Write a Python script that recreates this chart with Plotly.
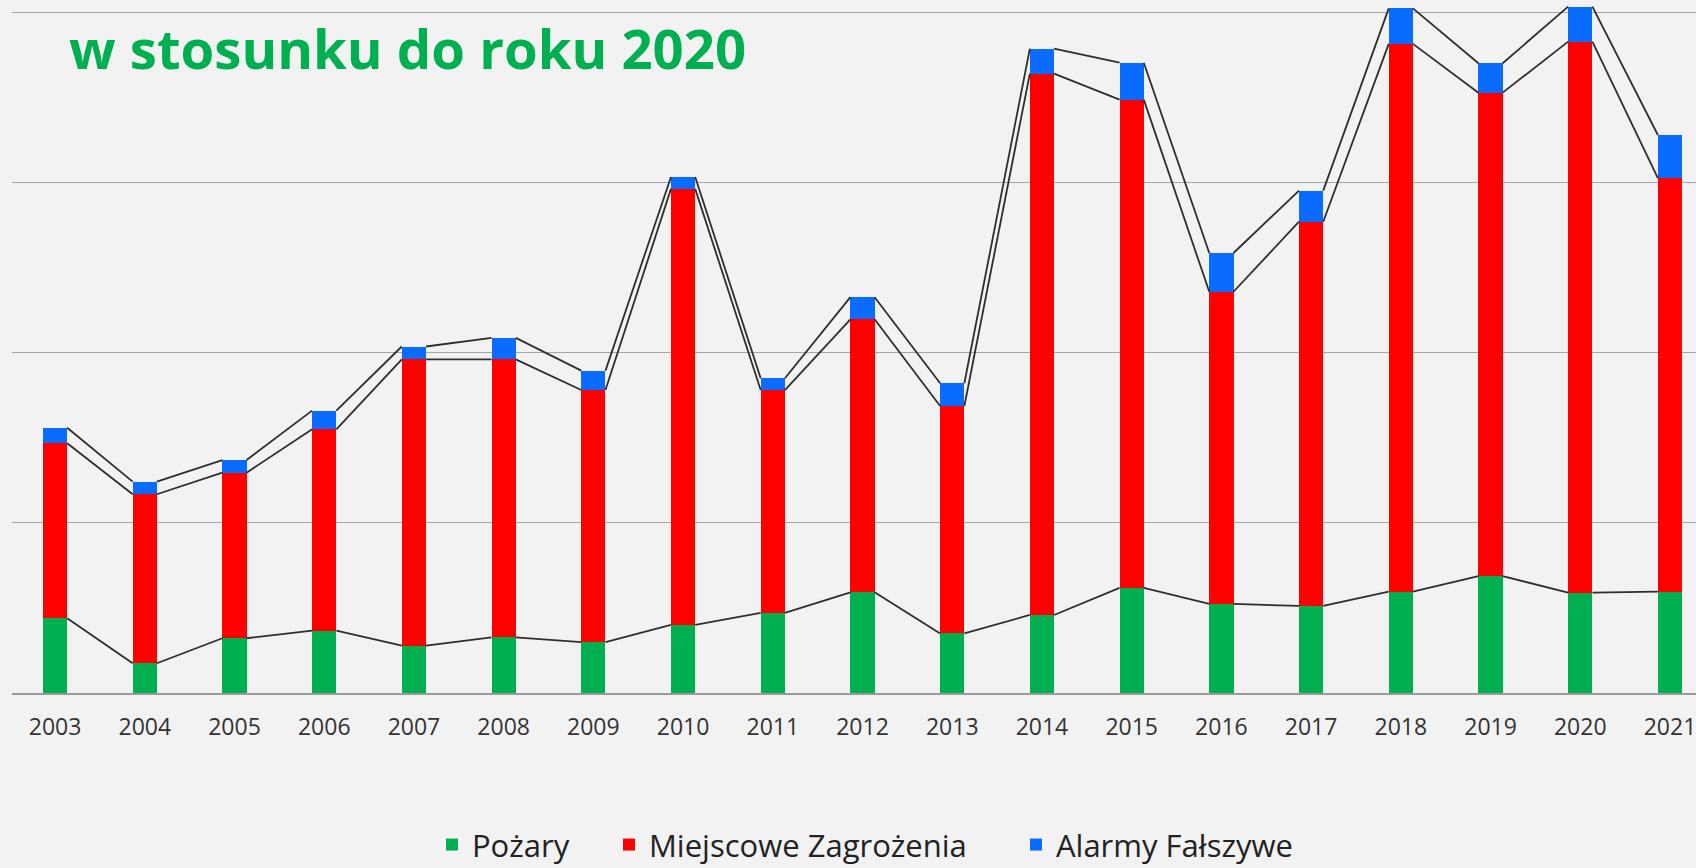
import plotly.graph_objects as go

# ---- data (counts per year) ----
years = [2003, 2004, 2005, 2006, 2007, 2008, 2009, 2010, 2011, 2012,
         2013, 2014, 2015, 2016, 2017, 2018, 2019, 2020, 2021]
tick_labels = [str(y) for y in years]
pozary = [439, 175, 322, 367, 278, 327, 299, 401, 471, 592,
          350, 459, 618, 524, 512, 596, 688, 590, 596]
miejscowe = [1030, 994, 974, 1184, 1684, 1635, 1483, 2564, 1311, 1606,
             1338, 3184, 2872, 1836, 2260, 3222, 2843, 3241, 2432]
alarmy = [91, 74, 74, 110, 76, 127, 114, 70, 69, 130,
          134, 147, 217, 228, 183, 209, 173, 206, 254]
series_names = ["Pożary", "Miejscowe Zagrożenia", "Alarmy Fałszywe"]
series_colors = ["#00b050", "#ff0000", "#0a6cff"]
legend_widths = [132, 362, None]
title_text = "w stosunku do roku 2020"

BAR_W = 0.27
FONT = "Open Sans"

fig = go.Figure()
series = [pozary, miejscowe, alarmy]
for name, vals, col, lw in zip(series_names, series, series_colors, legend_widths):
    kw = {} if lw is None else {"legendwidth": lw}
    fig.add_trace(go.Bar(x=years, y=vals, name=name, width=BAR_W,
                         marker=dict(color=col, line=dict(width=0)), **kw))

# series lines connecting the tops of each stacked segment between bars
cum = [0] * len(years)
for vals in series:
    cum = [c + v for c, v in zip(cum, vals)]
    lx, ly = [], []
    for i in range(len(years) - 1):
        lx += [years[i] + BAR_W / 2, years[i + 1] - BAR_W / 2, None]
        ly += [cum[i], cum[i + 1], None]
    fig.add_trace(go.Scatter(x=lx, y=ly, mode="lines", showlegend=False,
                             hoverinfo="skip",
                             line=dict(color="#2e2e2e", width=1.8)))

fig.add_annotation(text=title_text, xref="paper", yref="paper",
                   x=0.0326, y=1.0, xanchor="left", yanchor="top", yshift=-9,
                   showarrow=False,
                   font=dict(family=FONT, size=54.5, color="#00b050", weight="bold"))

fig.update_layout(
    width=1696, height=868,
    margin=dict(l=12, r=0, t=0, b=175),
    barmode="stack",
    paper_bgcolor="#f2f2f2",
    plot_bgcolor="rgba(0,0,0,0)",
    font=dict(family=FONT, color="#333333"),
    showlegend=True,
    legend=dict(orientation="h", xref="container", yref="container",
                x=0.2547, xanchor="left", y=0.0266, yanchor="middle",
                font=dict(family=FONT, size=31, color="#222222"),
                bgcolor="rgba(0,0,0,0)", traceorder="normal"),
    xaxis=dict(range=[2002.52, 2021.29], tickmode="array", tickvals=years,
               ticktext=tick_labels, showgrid=False, zeroline=False,
               showline=True, linecolor="#9a9a9a", linewidth=1.5, ticks="",
               ticklabelstandoff=13, ticklabeloverflow="allow",
               tickfont=dict(family=FONT, size=23, color="#333333")),
    yaxis=dict(range=[0, 4076], dtick=1000, showticklabels=False,
               showgrid=True, gridcolor="#a6a6a6", gridwidth=1.4,
               zeroline=False, ticks=""),
)

fig.write_html("out.html", config={"displayModeBar": False},
               post_script="document.body.style.margin='0px';")
